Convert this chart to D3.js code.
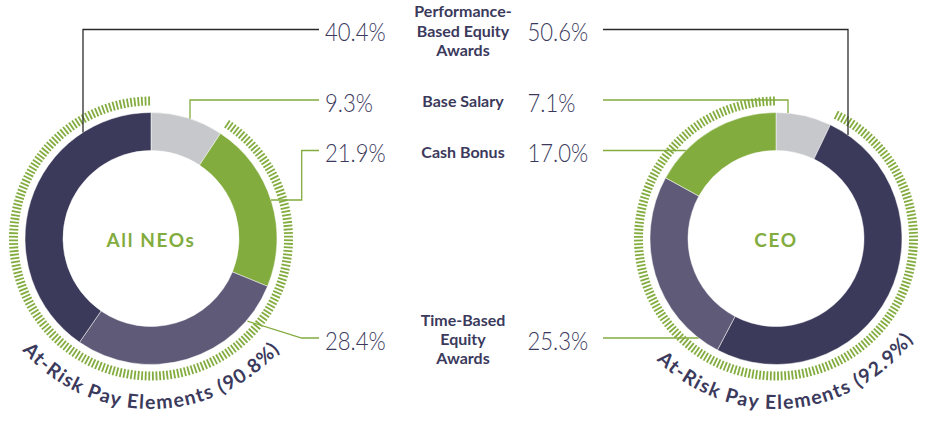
<!DOCTYPE html>
<html><head><meta charset="utf-8">
<script src="https://cdn.jsdelivr.net/npm/d3@7"></script>
<style>body{margin:0;background:#fff} svg{display:block}</style>
</head><body>
<svg id="c" width="926" height="424"></svg>
<script>
// ---- data ----
const categories = ["Performance-Based Equity Awards", "Base Salary", "Cash Bonus", "Time-Based Equity Awards"];
const categoryLines = [["Performance-", "Based Equity", "Awards"], ["Base Salary"], ["Cash Bonus"], ["Time-Based", "Equity", "Awards"]];
const neoValues = [40.4, 9.3, 21.9, 28.4];
const ceoValues = [50.6, 7.1, 17.0, 25.3];
const neoOrder = ["Base Salary", "Cash Bonus", "Time-Based Equity Awards", "Performance-Based Equity Awards"];
const ceoOrder = ["Base Salary", "Performance-Based Equity Awards", "Time-Based Equity Awards", "Cash Bonus"];
const chartTitles = ["All NEOs", "CEO"];
const atRiskValues = [90.8, 92.9];
const atRiskLabel = "At-Risk Pay Elements";

// ---- styles / layout ----
const colors = {
  "Performance-Based Equity Awards": "#3b3a5b",
  "Base Salary": "#c7c8cb",
  "Cash Bonus": "#83ac3e",
  "Time-Based Equity Awards": "#5f5a77"
};
const navy = "#3b3a5c", green = "#83ac3e";
const rowY = {"Performance-Based Equity Awards": 29.5, "Base Salary": 100, "Cash Bonus": 150.5, "Time-Based Equity Awards": 338};
const cy = 238.5, R0 = 88, R1 = 126, T0 = 133, T1 = 142, RT = 170.5;
const FONT = "Lato, 'Open Sans', sans-serif";

const svg = d3.select("#c");

const donuts = [
  {cx: 151, values: neoValues, order: neoOrder, title: chartTitles[0], atRisk: atRiskValues[0], side: "left", textRot: 0,
   pctX: 325, lineEnd: 319,
   leaders: {
     "Performance-Based Equity Awards": {kind: "v", dx: -68},
     "Base Salary": {kind: "v", dx: 39},
     "Cash Bonus": {kind: "hvh", dy: -38.5, vx: 301.7},
     "Time-Based Equity Awards": {kind: "diag", ang: 130.6, vx: 301.7}
   }},
  {cx: 776, values: ceoValues, order: ceoOrder, title: chartTitles[1], atRisk: atRiskValues[1], side: "right", textRot: -4.5,
   pctX: 527.5, lineEnd: 603,
   leaders: {
     "Performance-Based Equity Awards": {kind: "v", dx: 72},
     "Base Salary": {kind: "v", dx: 12},
     "Cash Bonus": {kind: "h"},
     "Time-Based Equity Awards": {kind: "h"}
   }}
];

const pie = d3.pie().sort(null).value(d => d.value);
const arc = d3.arc().innerRadius(R0).outerRadius(R1);

donuts.forEach((D, di) => {
  const data = D.order.map(k => ({key: k, value: D.values[categories.indexOf(k)]}));
  const g = svg.append("g").attr("transform", `translate(${D.cx},${cy})`);
  g.selectAll("path.seg").data(pie(data)).join("path")
    .attr("class", "seg")
    .attr("d", arc)
    .attr("fill", d => colors[d.data.key])
    .attr("stroke", "#fff").attr("stroke-width", 0.5);

  // tick ring for at-risk portion
  const start = 2 * Math.PI * (100 - D.atRisk) / 100;
  const step = 1.5 * Math.PI / 180;
  const ticks = d3.range(start + step * 0.4, 2 * Math.PI, step);
  g.selectAll("line.tk").data(ticks).join("line")
    .attr("class", "tk")
    .attr("x1", a => Math.sin(a) * T0).attr("y1", a => -Math.cos(a) * T0)
    .attr("x2", a => Math.sin(a) * T1).attr("y2", a => -Math.cos(a) * T1)
    .attr("stroke", green).attr("stroke-width", 1.8);

  // title
  g.append("text").attr("x", 0).attr("y", 8.4)
    .attr("text-anchor", "middle")
    .attr("font-family", FONT).attr("font-weight", 700).attr("font-size", 19)
    .attr("letter-spacing", 1.6)
    .attr("fill", green).text(D.title);

  // curved at-risk label
  const pid = "arcpath" + di;
  g.append("path").attr("id", pid)
    .attr("d", `M${-RT},0 A${RT},${RT} 0 0 0 ${RT},0`)
    .attr("transform", `rotate(${D.textRot})`)
    .attr("fill", "none");
  g.append("text")
    .attr("font-family", FONT).attr("font-weight", 700).attr("font-size", 19.5)
    .attr("fill", navy)
    .append("textPath").attr("href", "#" + pid).attr("startOffset", "50%")
    .attr("text-anchor", "middle")
    .attr("textLength", 292).attr("lengthAdjust", "spacing")
    .text(`${atRiskLabel} (${D.atRisk}%)`);

  // leaders
  categories.forEach((cat, ci) => {
    const L = D.leaders[cat];
    const y = rowY[cat];
    let pts;
    if (L.kind === "v") {
      const x = D.cx + L.dx, ry = cy - Math.sqrt(R1 * R1 - L.dx * L.dx);
      pts = [[x, ry], [x, y], [D.lineEnd, y]];
    } else if (L.kind === "hvh") {
      const ry = cy + L.dy, rx = D.cx + Math.sqrt(R1 * R1 - L.dy * L.dy);
      pts = [[rx, ry], [L.vx, ry], [L.vx, y], [D.lineEnd, y]];
    } else if (L.kind === "diag") {
      const a = L.ang * Math.PI / 180;
      pts = [[D.cx + Math.sin(a) * (R1 + 1), cy - Math.cos(a) * (R1 + 1)], [L.vx, y], [D.lineEnd, y]];
    } else {
      const dy = y - cy, rx = D.cx - Math.sqrt(R1 * R1 - dy * dy);
      pts = [[rx, y], [D.lineEnd, y]];
    }
    if (D.side === "right" && L.kind === "v") pts = pts.reverse();
    svg.append("path").attr("d", d3.line()(pts))
      .attr("fill", "none")
      .attr("stroke", cat === categories[0] ? "#2b2b2b" : green)
      .attr("stroke-width", 1.3);

    // percent label
    const t = svg.append("text").attr("x", D.pctX).attr("y", y + 11.5)
      .attr("font-family", FONT).attr("font-weight", 300).attr("font-size", 24.5)
      .attr("fill", navy).text(D.values[ci].toFixed(1) + "%");
    const w = t.node().getComputedTextLength();
    t.attr("textLength", w * 0.9).attr("lengthAdjust", "spacingAndGlyphs");
  });
});

// category labels in the middle
categories.forEach((cat, ci) => {
  const lines = categoryLines[ci];
  const base = rowY[cat] + 7;
  const mid = (lines.length - 1) / 2;
  const t = svg.append("text").attr("text-anchor", "middle")
    .attr("font-family", FONT).attr("font-weight", 700).attr("font-size", 16)
    .attr("fill", navy);
  lines.forEach((ln, i) => {
    t.append("tspan").attr("x", 463).attr("y", base + (i - mid) * 19.4).text(ln);
  });
});
</script>
</body></html>
